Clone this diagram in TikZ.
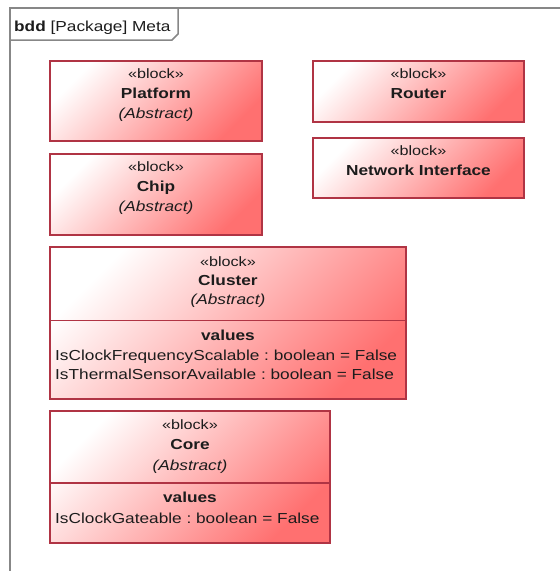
\documentclass[tikz,border=0pt]{standalone}
\usepackage{fontspec}
\setmainfont{Liberation Sans}[FakeStretch=1.19]
\frenchspacing

\definecolor{blockline}{RGB}{176,52,68}
\definecolor{blockfill}{RGB}{255,112,112}
\definecolor{framegray}{RGB}{135,135,135}
\definecolor{inkgray}{RGB}{28,28,28}

\newcommand{\stereo}{{\fontsize{13.6}{20}\selectfont «block»}}

\tikzset{
  block/.style={rectangle, draw=blockline, line width=1.9pt, inner sep=0pt, anchor=north west,
    top color=white, bottom color=blockfill, shading angle=45},
  blocktext/.style={anchor=north, inner sep=0pt, align=center, text=inkgray,
    font=\fontsize{14.5}{20}\selectfont},
  attrtext/.style={anchor=north west, inner sep=0pt, align=left, text=inkgray,
    font=\fontsize{14.5}{19.5}\selectfont},
  divider/.style={draw=blockline, line width=1.9pt}
}

\begin{document}
\begin{tikzpicture}[x=1pt,y=-1pt]
\useasboundingbox (0,0) rectangle (560,571);

% package frame with its name tab
\draw[framegray, line width=2pt] (9.5,571) |- (560,7.5);
\draw[framegray, line width=1.5pt] (9.5,40) -- (172,40) -- (178,34) -- (178,7.5);
\node[anchor=base west, inner sep=0pt, text=inkgray, font=\fontsize{14.5}{20}\selectfont] (frametitle) at (14,31) {\textbf{bdd} [Package] Meta};

% plain blocks
\node[block, minimum width=212pt, minimum height=80pt] (platform) at (49,60) {};
\node[blocktext] (platformname) at (platform.north |- 0,68.4) {\stereo\\\textbf{Platform}\\\textit{(Abstract)}};

\node[block, minimum width=212pt, minimum height=81pt] (chip) at (49,153) {};
\node[blocktext] (chipname) at (chip.north |- 0,161.4) {\stereo\\\textbf{Chip}\\\textit{(Abstract)}};

\node[block, minimum width=211pt, minimum height=61pt] (router) at (312,60) {};
\node[blocktext] (routername) at (router.north |- 0,68.4) {\stereo\\\textbf{Router}};

\node[block, minimum width=211pt, minimum height=60pt] (netif) at (312,137) {};
\node[blocktext] (netifname) at (netif.north |- 0,145.4) {\stereo\\\textbf{Network Interface}};

% blocks with a values compartment
\node[block, minimum width=356pt, minimum height=152pt] (cluster) at (49,246) {};
\node[blocktext, font=\fontsize{14.5}{19}\selectfont] (clustername) at (cluster.north |- 0,256.4) {\stereo\\\textbf{Cluster}\\\textit{(Abstract)}};
\coordinate (clustersplit) at (0,320.5);
\draw[divider] (cluster.west |- clustersplit) -- (cluster.east |- clustersplit);
\node[blocktext] (clustervalues) at (cluster.north |- 0,329.5) {\textbf{values}};
\node[attrtext] (clusterattrs) at (55,349.5) {IsClockFrequencyScalable : boolean = False\\IsThermalSensorAvailable : boolean = False};

\node[block, minimum width=280pt, minimum height=132pt] (core) at (49,410) {};
\node[blocktext, font=\fontsize{14.5}{20.5}\selectfont] (corename) at (core.north |- 0,419.4) {\stereo\\\textbf{Core}\\\textit{(Abstract)}};
\coordinate (coresplit) at (0,483);
\draw[divider] (core.west |- coresplit) -- (core.east |- coresplit);
\node[blocktext] (corevalues) at (core.north |- 0,492) {\textbf{values}};
\node[attrtext] (coreattrs) at (55,513) {IsClockGateable : boolean = False};
\end{tikzpicture}
\end{document}
